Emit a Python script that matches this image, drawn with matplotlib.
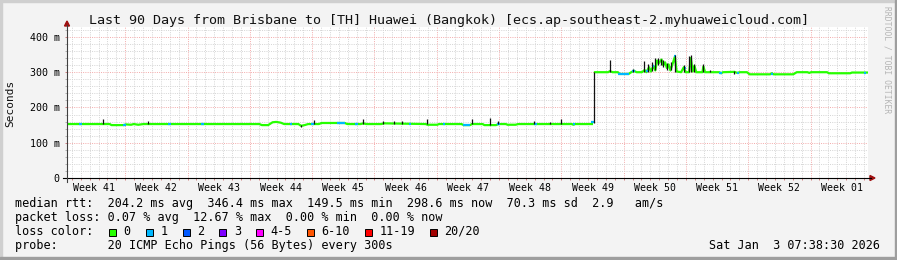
import matplotlib
matplotlib.use('Agg')
from matplotlib import pyplot as plt
from matplotlib.patches import Rectangle, Polygon
from matplotlib.lines import Line2D
import numpy as np

W, H = 897, 260

# median rtt before the jump (day from left edge, ms)
pre_days = [0.0, 4.8, 5.0, 6.4, 6.6, 7.2, 7.5, 8.0, 8.6, 21.6, 21.9, 22.6, 23.1, 23.5,
            24.0, 24.4, 26.0, 26.3, 26.7, 27.1, 28.3, 28.6, 31.2, 31.5, 33.0, 33.3,
            33.6, 35.3, 35.6, 40.3, 40.5, 41.6, 41.8, 44.3, 44.6, 45.3, 45.5, 46.7,
            46.9, 48.2, 48.5, 49.3, 49.5, 50.4, 50.7, 56.7, 56.9, 57.1, 59.1]
pre_ms = [153, 153, 150, 150, 152, 151, 153, 151, 153, 153, 150, 150, 158, 159,
          157, 153, 153, 148, 150, 153, 153, 156, 156, 153, 153, 155,
          153, 153, 155, 153, 151, 151, 153, 153, 150, 150, 153, 153,
          150, 150, 153, 153, 151, 151, 153, 153, 151, 153, 153]

# median rtt after the jump
post_days = [59.2, 60.8, 61.0, 61.3, 61.9, 62.1, 63.1, 63.4, 63.7, 64.0, 64.6, 64.9,
             65.1, 65.4, 65.6, 65.9, 66.1, 66.3, 66.5, 66.8, 67.0, 67.2, 67.4, 67.6,
             67.8, 68.0, 68.3, 68.5, 69.0, 69.3, 69.5, 69.9, 70.1, 70.3, 70.5, 70.7,
             71.4, 71.5, 71.7, 73.3, 73.5, 73.7, 75.0, 75.3, 75.6, 76.4, 76.7, 79.0,
             79.2, 79.4, 81.6, 82.0, 83.2, 83.4, 83.6, 85.4, 85.6, 88.0, 88.2, 90.0]
post_ms = [300, 300, 303, 300, 300, 295, 295, 300, 304, 300, 300, 306,
           300, 314, 302, 318, 305, 333, 326, 336, 320, 328, 312, 322,
           305, 320, 344, 302, 300, 314, 300, 300, 340, 302, 318, 300,
           300, 316, 300, 300, 297, 300, 301, 298, 300, 300, 294, 294,
           297, 294, 294, 300, 300, 298, 300, 300, 297, 297, 299, 299]

# smoke spikes (day, low ms, high ms)
spike_days = [4.1, 9.1, 26.3, 27.7, 33.3, 35.5, 36.7, 37.6, 40.4, 45.5, 47.5, 48.4,
              52.5, 54.3, 55.5, 59.2, 61.0, 63.6, 64.8, 65.3, 65.7, 66.1, 66.4, 66.7,
              67.0, 67.4, 67.9, 68.3, 69.3, 69.9, 70.1, 70.5, 71.5, 72.3, 74.9]
spike_lo = [153, 153, 145, 153, 153, 153, 153, 153, 153, 152, 150, 153,
            153, 153, 153, 155, 300, 300, 300, 300, 302, 305, 320, 320,
            315, 305, 305, 300, 300, 300, 300, 300, 300, 300, 296]
spike_hi = [167, 161, 150, 164, 168, 162, 162, 162, 168, 167, 170, 161,
            162, 160, 168, 300, 334, 310, 332, 322, 330, 340, 340, 338,
            335, 325, 330, 348, 320, 346, 348, 322, 323, 305, 302]

# pieces of the median with 1/20 loss
blue_start = [1.4, 6.3, 11.4, 15.1, 25.0, 27.4, 30.3, 32.4, 38.4, 42.2, 44.5, 48.3,
              52.5, 56.8, 58.9, 61.9, 63.5, 65.0, 65.7, 68.2, 69.3, 73.3, 75.3, 79.1, 89.5]
blue_end = [1.7, 6.6, 11.7, 15.4, 25.3, 27.7, 31.2, 32.7, 38.7, 42.5, 45.3, 48.6,
            52.8, 57.1, 59.2, 63.2, 63.8, 65.3, 65.9, 68.4, 69.5, 73.6, 75.5, 79.3, 89.8]
blue_ms = [153, 150, 153, 153, 153, 153, 156, 153, 153, 153, 150, 153,
           153, 153, 160, 295, 303, 302, 318, 345, 312, 297, 298, 296, 299]

week_names = ['Week 41', 'Week 42', 'Week 43', 'Week 44', 'Week 45', 'Week 46', 'Week 47',
              'Week 48', 'Week 49', 'Week 50', 'Week 51', 'Week 52', 'Week 01']
first_week = 6.55   # day of first week boundary
n_days = 90

y_ticks = [0, 100, 200, 300, 400]
y_labels = ['0', '100 m', '200 m', '300 m', '400 m']

loss_labels = ['0', '1', '2', '3', '4-5', '6-10', '11-19', '20/20']
loss_colors = ['#26ff00', '#00b8ff', '#0059ff', '#7e00ff', '#ff00ff', '#ff5500', '#ff0000', '#a10000']

title = 'Last 90 Days from Brisbane to [TH] Huawei (Bangkok) [ecs.ap-southeast-2.myhuaweicloud.com]'
rtt_line = 'median rtt:  204.2 ms avg  346.4 ms max  149.5 ms min  298.6 ms now  70.3 ms sd  2.9   am/s'
loss_line = 'packet loss: 0.07 % avg  12.67 % max  0.00 % min  0.00 % now'
probe_line = 'probe:       20 ICMP Echo Pings (56 Bytes) every 300s'
stamp = 'Sat Jan  3 07:38:30 2026'

MONO = 'DejaVu Sans Mono'


def fx(x):
    return x / W


def fy(y):
    return 1 - y / H


fig = plt.figure(figsize=(W / 100, H / 100), dpi=100, facecolor='#f3f3f3')

# frame
fig.patches.append(Rectangle((0, fy(2)), 1, 2 / H, transform=fig.transFigure, color='#cfcfcf'))
fig.patches.append(Rectangle((0, 0), 2 / W, 1, transform=fig.transFigure, color='#cfcfcf'))
fig.patches.append(Rectangle((0, 0), 1, 3 / H, transform=fig.transFigure, color='#9e9e9e'))
fig.patches.append(Rectangle((fx(W - 2), 0), 2 / W, 1, transform=fig.transFigure, color='#9e9e9e'))

top_px = 26.7
ax = fig.add_axes([fx(67), fy(178), 801 / W, (178 - top_px) / H])
ax.set_facecolor('white')
ax.set_xlim(0, n_days)
ax.set_ylim(0, 429)
for s in ax.spines.values():
    s.set_visible(False)

dots = (0, (1, 1.3))
# grid
week_lines = np.arange(first_week, n_days, 7)
day_lines = [d for d in np.arange(first_week - 6, n_days, 1.0)
             if min(abs(d - week_lines)) > 0.01]
for d in day_lines:
    ax.axvline(d, color='#d4d4d4', lw=0.7, ls=dots, zorder=1)
for d in week_lines:
    ax.axvline(d, color='#f3aaaa', lw=0.7, ls=dots, zorder=1)
for v in range(20, 429, 20):
    if v % 100:
        ax.axhline(v, color='#d4d4d4', lw=0.7, ls=dots, zorder=1)
for v in y_ticks[1:]:
    ax.axhline(v, color='#f3aaaa', lw=0.7, ls=dots, zorder=1)

# median, then smoke on top
ax.plot(pre_days, pre_ms, color=loss_colors[0], lw=1.6, zorder=3, solid_capstyle='butt')
ax.plot(post_days, post_ms, color=loss_colors[0], lw=1.6, zorder=3, solid_capstyle='butt')
for s, e, v in zip(blue_start, blue_end, blue_ms):
    ax.plot([s, e], [v, v], color=loss_colors[1], lw=1.6, zorder=4, solid_capstyle='butt')
ax.vlines(spike_days, spike_lo, spike_hi, colors='#111111', lw=0.9, zorder=5)

# ticks and labels
week_mid = week_lines[0] - 3.5 + 7 * np.arange(len(week_names))
ax.set_xticks(week_mid, week_names)
ax.set_xticks(list(day_lines) + list(week_lines), minor=True)
ax.tick_params(axis='x', which='major', length=0, pad=3.5, labelsize=7.1)
ax.tick_params(axis='x', which='minor', length=1.5, width=0.7, color='#d08080', direction='out')
ax.set_yticks(y_ticks, y_labels)
ax.set_yticks(range(20, 429, 20), minor=True)
ax.tick_params(axis='y', which='major', length=1.5, width=0.7, color='#d08080', pad=3.8, labelsize=7.2)
ax.tick_params(axis='y', which='minor', length=1.5, width=0.7, color='#b0b0b0')
for lab in ax.get_xticklabels() + ax.get_yticklabels():
    lab.set_fontfamily(MONO)

# axis lines with arrows
fig.add_artist(Line2D([fx(63), fx(871)], [fy(178), fy(178)], color='black', lw=0.8))
fig.add_artist(Polygon([(fx(870), fy(175.5)), (fx(875), fy(178)), (fx(870), fy(180.5))],
                       closed=True, transform=fig.transFigure, color='#a01010'))
fig.add_artist(Line2D([fx(67), fx(67)], [fy(182), fy(25)], color='#404040', lw=0.8))
fig.add_artist(Polygon([(fx(64.5), fy(26)), (fx(67), fy(21)), (fx(69.5), fy(26))],
                       closed=True, transform=fig.transFigure, color='#a01010'))

# texts
fig.text(0.5, fy(24), title, ha='center', va='baseline', fontsize=9.6, family=MONO, color='#111111')
fig.text(fx(10.7), fy(103), 'Seconds', rotation=90, ha='center', va='center', fontsize=8,
         family=MONO, color='#111111')
fig.text(fx(887), fy(60), 'RRDTOOL / TOBI OETIKER', rotation=270, ha='center', va='center',
         fontsize=5.8, family=MONO, color='#b5b5b5')

cw = 0.602 * 8.5 * 100 / 72
fig.text(fx(15), fy(207), rtt_line, ha='left', va='baseline', fontsize=8.5, family=MONO)
fig.text(fx(15), fy(221), loss_line, ha='left', va='baseline', fontsize=8.5, family=MONO)
fig.text(fx(15), fy(235), 'loss color:', ha='left', va='baseline', fontsize=8.5, family=MONO)
fig.text(fx(15), fy(249), probe_line, ha='left', va='baseline', fontsize=8.5, family=MONO)
fig.text(fx(880), fy(249), stamp, ha='right', va='baseline', fontsize=8.5, family=MONO)

bx = 109.3
for lab, col in zip(loss_labels, loss_colors):
    fig.patches.append(Rectangle((fx(bx), fy(236)), 7 / W, 7.5 / H, transform=fig.transFigure,
                                 facecolor=col, edgecolor='black', lw=0.7))
    fig.text(fx(bx + 14.3), fy(235), lab, ha='left', va='baseline', fontsize=8.5, family=MONO)
    bx += 14.3 + len(lab) * cw + 15.3

fig.savefig('out.png', dpi=100, facecolor=fig.get_facecolor())
